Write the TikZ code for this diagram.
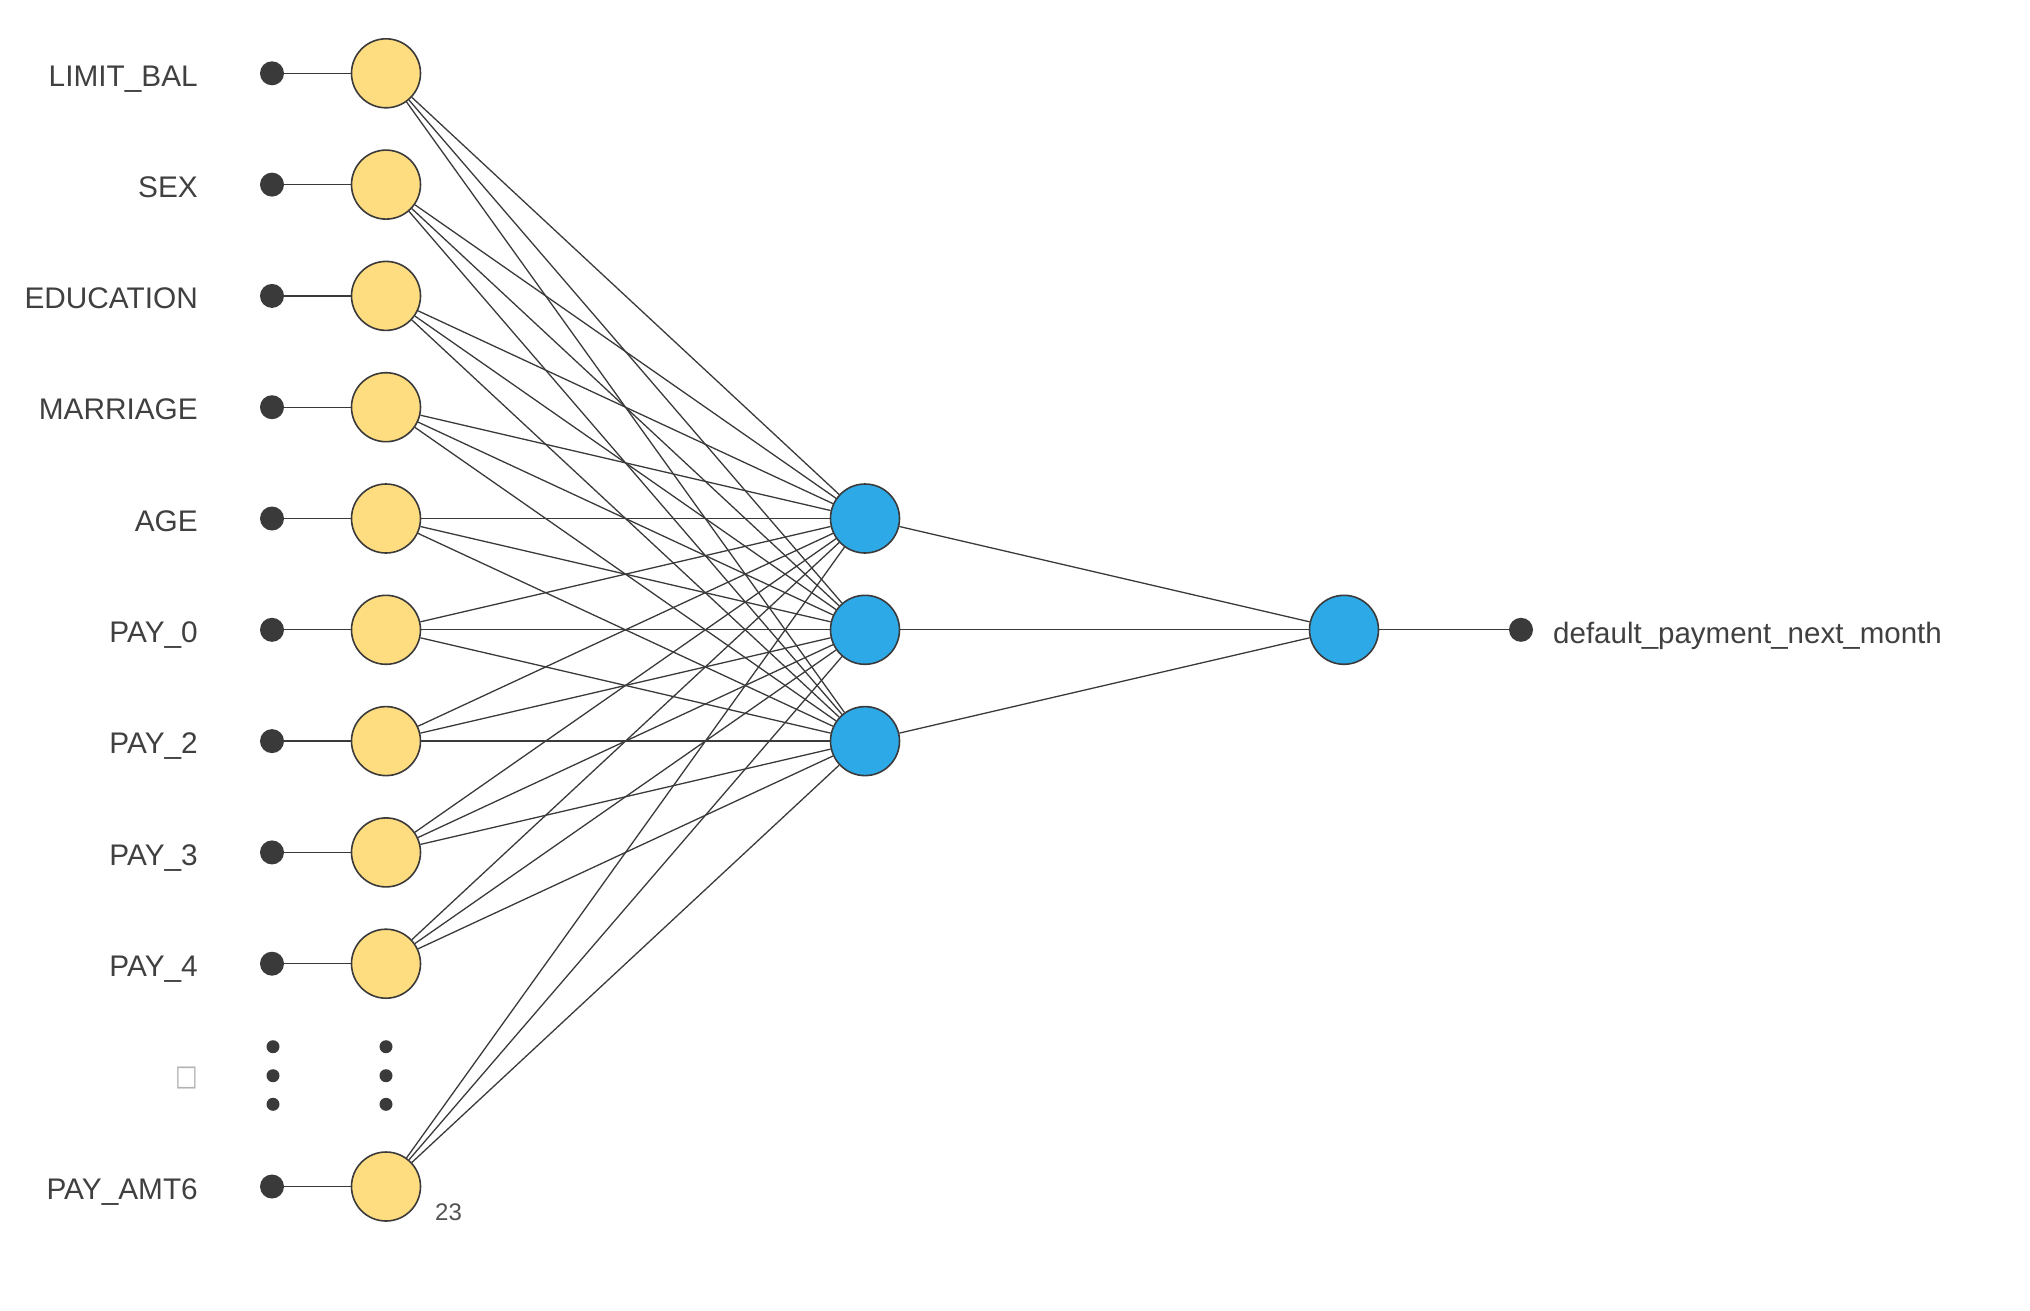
\documentclass[tikz,border=0pt]{standalone}
\usepackage{fontspec}
\setmainfont{Liberation Sans}
\newfontfamily\symfont{DejaVu Sans}
\definecolor{nodeyellow}{HTML}{FEDC80}
\definecolor{nodeblue}{HTML}{2EA9E8}
\definecolor{inkdark}{HTML}{3A3A3A}
\definecolor{labeltext}{HTML}{404040}
\begin{document}
\begin{tikzpicture}[x=1pt,y=-1pt,
  inunit/.style={circle,draw=inkdark,line width=1.6pt,fill=nodeyellow,minimum size=69pt,inner sep=0pt},
  hidunit/.style={circle,draw=inkdark,line width=1.6pt,fill=nodeblue,minimum size=69pt,inner sep=0pt},
  termdot/.style={circle,fill=inkdark,minimum size=24pt,inner sep=0pt},
  smalldot/.style={circle,fill=inkdark,minimum size=13pt,inner sep=0pt},
  featlabel/.style={anchor=base east,text=labeltext,font=\fontsize{29.8}{35}\selectfont,inner sep=0pt},
  wire/.style={draw=inkdark,line width=1.3pt}]
\useasboundingbox (0,0) rectangle (2030,1310);
% input rows
\foreach \i/\lab/\yy in {1/LIMIT\_BAL/73.3,2/SEX/184.6,3/EDUCATION/295.9,4/MARRIAGE/407.2,5/AGE/518.5,6/PAY\_0/629.8,7/PAY\_2/741.1,8/PAY\_3/852.4,9/PAY\_4/963.7,10/PAY\_AMT6/1186.5}{
  \node[termdot] (d\i) at (272,\yy) {};
  \node[inunit] (x\i) at (386,\yy) {};
  \node[featlabel] (l\i) at (198,\yy+12.7) {\lab};
  \draw[wire] (d\i) -- (x\i);
}
% ellipsis dots
\foreach \j/\yy in {1/1046.7,2/1075.7,3/1104.3}{
  \node[smalldot] (ed\j) at (273,\yy) {};
  \node[smalldot] (ex\j) at (386,\yy) {};
}
\node[anchor=center,text=black!30,font=\symfont\fontsize{24}{28}\selectfont,inner sep=0pt,yscale=1.2] (tofu) at (187,1078) {□};
\node[anchor=base west,text=black!68,font=\fontsize{24}{28}\selectfont,inner sep=0pt] (cnt) at (435,1220) {23};
% hidden
\node[hidunit] (h1) at (865,518.5) {};
\node[hidunit] (h2) at (865,629.8) {};
\node[hidunit] (h3) at (865,741.1) {};
% output
\node[hidunit] (o) at (1344,629.8) {};
\node[termdot] (od) at (1521,629.8) {};
\node[anchor=base west,text=labeltext,font=\fontsize{29.5}{35}\selectfont,inner sep=0pt] (ol) at (1553,643) {default\_payment\_next\_month};
% connections
\foreach \i in {1,...,10}{
  \foreach \h in {1,2,3}{
    \draw[wire] (x\i) -- (h\h);
  }
}
\foreach \h in {1,2,3}{
  \draw[wire] (h\h) -- (o);
}
\draw[wire] (o) -- (od);
\end{tikzpicture}
\end{document}
